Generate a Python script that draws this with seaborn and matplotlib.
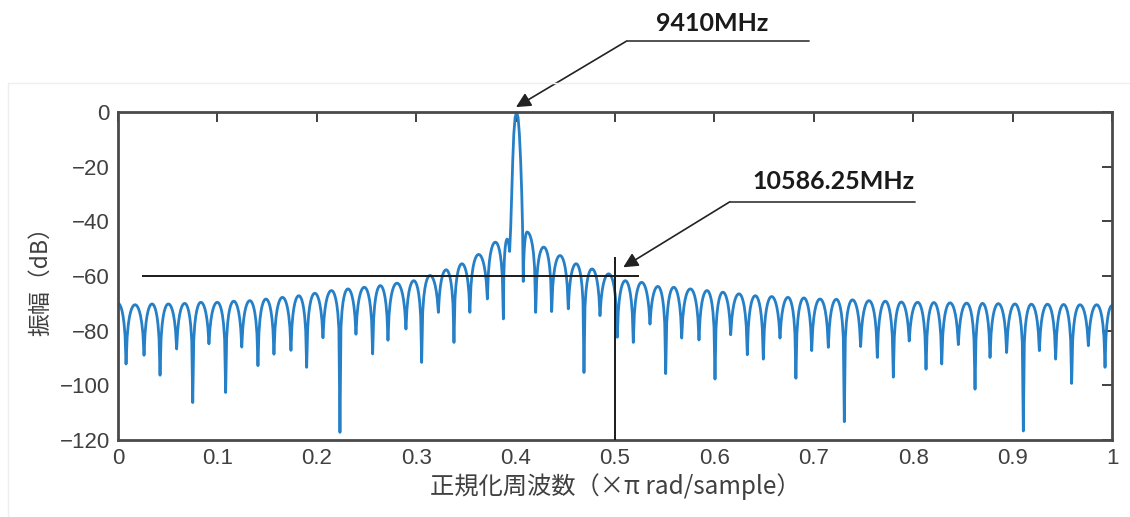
import numpy as np
import pandas as pd
import matplotlib
matplotlib.use("Agg")
import matplotlib.pyplot as plt
import seaborn as sns
from matplotlib.lines import Line2D

# ---------------- data ----------------
# sidelobe nulls left of the main lobe (normalized freq, dB)
left_null_x = [0.0081, 0.0262, 0.0423, 0.0590, 0.0752, 0.0915, 0.1083, 0.1245,
               0.1408, 0.1569, 0.1740, 0.1898, 0.2062, 0.2233, 0.2394, 0.2562,
               0.2716, 0.2897, 0.3055, 0.3223, 0.3380, 0.3540, 0.3716, 0.3877]
left_null_db = [-92.2, -89.0, -96.3, -86.7, -106.3, -84.8, -102.6, -86.0,
                -92.8, -88.6, -87.2, -93.4, -82.6, -117.2, -81.3, -88.5,
                -83.5, -79.4, -91.6, -73.3, -84.3, -73.3, -68.4, -75.7]
# lobe peaks between consecutive left nulls
left_peak_db = [-70.5, -70.2, -70.2, -70.0, -69.6, -69.6, -69.2, -69.0,
                -68.4, -67.8, -67.2, -66.3, -65.3, -64.7, -64.1, -63.5,
                -62.6, -61.7, -59.8, -57.7, -55.5, -52.1, -47.6]

# sidelobe nulls right of the main lobe
right_null_x = [0.4202, 0.4363, 0.4530, 0.4688, 0.4849, 0.5023, 0.5184, 0.5352,
                0.5510, 0.5671, 0.5845, 0.6006, 0.6164, 0.6331, 0.6492, 0.6660,
                0.6820, 0.6979, 0.7146, 0.7307, 0.7471, 0.7639, 0.7800, 0.7960,
                0.8129, 0.8287, 0.8454, 0.8622, 0.8773, 0.8940, 0.9108, 0.9269,
                0.9433, 0.9594, 0.9762, 0.9930]
right_null_db = [-73.3, -73.0, -72.0, -95.3, -74.5, -82.4, -84.3, -77.6,
                 -95.7, -82.7, -83.4, -97.7, -81.5, -88.8, -90.4, -82.7,
                 -97.4, -87.3, -86.1, -113.3, -85.8, -89.8, -97.0, -83.8,
                 -94.1, -92.2, -85.1, -101.4, -89.8, -88.0, -116.7, -87.3,
                 -90.4, -99.3, -85.5, -93.4]
right_peak_db = [-49.4, -52.5, -55.5, -57.4, -59.2, -61.7, -62.3, -63.8,
                 -64.1, -64.7, -65.3, -65.9, -66.5, -67.2, -67.5, -67.8,
                 -68.0, -68.4, -68.5, -68.7, -69.0, -69.2, -69.5, -69.6,
                 -69.7, -69.8, -69.9, -70.0, -70.1, -70.2, -70.3, -70.3,
                 -70.4, -70.5, -70.5]

# values at the two ends of the axis
edge_x = [0.0, 1.0]
edge_db = [-70.0, -70.8]

# the lobes hugging the main lobe: (null, peak, null)
near_left_x = [0.3877, 0.3915, 0.3940]
near_left_db = [-75.7, -46.5, -51.0]
near_right_x = [0.4077, 0.4115, 0.4202]
near_right_db = [-62.0, -43.9, -73.3]

# main lobe outline
main_x = [0.3940, 0.3951, 0.3961, 0.3971, 0.3982, 0.3995, 0.4010,
          0.4025, 0.4038, 0.4051, 0.4062, 0.4070, 0.4077]
main_db = [-51.0, -42.0, -30.0, -18.0, -8.0, -2.0, 0.0,
           -2.0, -8.0, -18.0, -30.0, -42.0, -62.0]

# reference marks
ref_level = -60
ref_span = [0.024, 0.524]
marker_freq = 0.5
marker_top = -53

freq_ticks = [0, 0.1, 0.2, 0.3, 0.4, 0.5, 0.6, 0.7, 0.8, 0.9, 1.0]
freq_tick_labels = ["0", "0.1", "0.2", "0.3", "0.4", "0.5", "0.6", "0.7", "0.8", "0.9", "1"]
db_ticks = [0, -20, -40, -60, -80, -100, -120]
db_tick_labels = ["0", "\u221220", "\u221240", "\u221260", "\u221280", "\u2212100", "\u2212120"]

label_peak = "9410MHz"
label_cross = "10586.25MHz"
xlabel = "正規化周波数（×π rad/sample）"
ylabel = "振幅（dB）"


# ---------------- lobe outline helper ----------------
def half_lobe(x_null, x_peak, v_null, v_peak, k=9):
    """points from a null up to a lobe peak (rounded arch, sharp cusp)."""
    depth = max(v_peak - v_null, 0.5)
    r = 10 ** (-depth / 20.0)
    e = r / (1 - r)
    t = np.linspace(0, 1, k)
    v = v_peak + 20 * np.log10((np.sin(np.pi / 2 * t) + e) / (1 + e))
    x = x_null + (x_peak - x_null) * t
    return x, v


def lobe(x0, xp, x1, n0, p, n1):
    xa, va = half_lobe(x0, xp, n0, p)
    xb, vb = half_lobe(x1, xp, n1, p)
    return np.concatenate([xa, xb[::-1][1:]]), np.concatenate([va, vb[::-1][1:]])


xs, vs = [], []


def add(x, v):
    if xs:
        x, v = x[1:], v[1:]
    xs.extend(list(x))
    vs.extend(list(v))


# start half lobe
xb, vb = half_lobe(left_null_x[0], edge_x[0], left_null_db[0], edge_db[0])
add(xb[::-1], vb[::-1])
for i in range(len(left_peak_db)):
    x0, x1 = left_null_x[i], left_null_x[i + 1]
    lx, lv = lobe(x0, (x0 + x1) / 2, x1, left_null_db[i], left_peak_db[i], left_null_db[i + 1])
    add(lx, lv)
lx, lv = lobe(near_left_x[0], near_left_x[1], near_left_x[2],
              near_left_db[0], near_left_db[1], near_left_db[2])
add(lx, lv)
add(np.array(main_x), np.array(main_db))
lx, lv = lobe(near_right_x[0], near_right_x[1], near_right_x[2],
              near_right_db[0], near_right_db[1], near_right_db[2])
add(lx, lv)
for i in range(len(right_peak_db)):
    x0, x1 = right_null_x[i], right_null_x[i + 1]
    lx, lv = lobe(x0, (x0 + x1) / 2, x1, right_null_db[i], right_peak_db[i], right_null_db[i + 1])
    add(lx, lv)
xa, va = half_lobe(right_null_x[-1], edge_x[1], right_null_db[-1], edge_db[1])
add(xa, va)

df = pd.DataFrame({"freq": xs, "db": vs})

# ---------------- drawing ----------------
sns.set_theme(style="white")
plt.rcParams["font.family"] = ["Liberation Sans", "Noto Sans CJK JP", "DejaVu Sans"]
plt.rcParams["axes.unicode_minus"] = True

W, H = 1130, 517
fig = plt.figure(figsize=(W / 100, H / 100), dpi=100)
ax = fig.add_axes([118 / W, (H - 440) / H, 994 / W, 328 / H])

sns.lineplot(data=df, x="freq", y="db", sort=False, estimator=None,
             color="#2580c8", linewidth=2.0, ax=ax, zorder=2)

ax.hlines(ref_level, ref_span[0], ref_span[1], color="#1a1a1a", lw=1.4, zorder=3)
ax.vlines(marker_freq, -120, marker_top, color="#1a1a1a", lw=1.4, zorder=3)

ax.set_xlim(0, 1)
ax.set_ylim(-120, 0)
ax.set_xticks(freq_ticks)
ax.set_xticklabels(freq_tick_labels)
ax.set_yticks(db_ticks)
ax.set_yticklabels(db_tick_labels)
ax.tick_params(direction="in", length=7, width=1.4, top=True, right=True,
               colors="#404040", labelsize=16, pad=6)
for s in ax.spines.values():
    s.set_color("#4a4a4a")
    s.set_linewidth(2.0)
    s.set_visible(True)

ax.set_xlabel(xlabel, fontsize=17.5, color="#404040",
              family=["Noto Sans CJK JP", "DejaVu Sans"], labelpad=3)
ax.set_ylabel(ylabel, fontsize=16.5, color="#404040",
              family=["Noto Sans CJK JP", "DejaVu Sans"], labelpad=5)

# faint frame of the pasted figure
fig.add_artist(Line2D([8 / W, 1.0], [1 - 83 / H, 1 - 83 / H], transform=fig.transFigure,
                      color="#eeeeee", lw=1))
fig.add_artist(Line2D([8 / W, 8 / W], [1 - 83 / H, 0.0], transform=fig.transFigure,
                      color="#eeeeee", lw=1))

# annotations
ann_font = ["Lato", "DejaVu Sans"]
fig.text(712.5 / W, 1 - 23.3 / H, label_peak, ha="center", va="center", fontsize=18,
         fontweight="bold", family=ann_font, color="#1a1a1a")
fig.add_artist(Line2D([626.7 / W, 809 / W], [1 - 41 / H] * 2, transform=fig.transFigure,
                      color="#444444", lw=1.3))
ax.annotate("", xy=(0.4004, 1.8), xycoords="data", xytext=(626.7, H - 41),
            textcoords="figure pixels", annotation_clip=False,
            arrowprops=dict(arrowstyle="-|>", color="#222222", lw=1.2,
                            mutation_scale=22, shrinkA=0, shrinkB=0))

fig.text(833.3 / W, 1 - 181.7 / H, label_cross, ha="center", va="center", fontsize=18,
         fontweight="bold", family=ann_font, color="#1a1a1a")
fig.add_artist(Line2D([730 / W, 915 / W], [1 - 201.7 / H] * 2, transform=fig.transFigure,
                      color="#444444", lw=1.3))
ax.annotate("", xy=(0.5083, -56.8), xycoords="data", xytext=(730, H - 201.7),
            textcoords="figure pixels", annotation_clip=False,
            arrowprops=dict(arrowstyle="-|>", color="#222222", lw=1.2,
                            mutation_scale=22, shrinkA=0, shrinkB=0))

fig.savefig("out.png", dpi=100, facecolor="white")
